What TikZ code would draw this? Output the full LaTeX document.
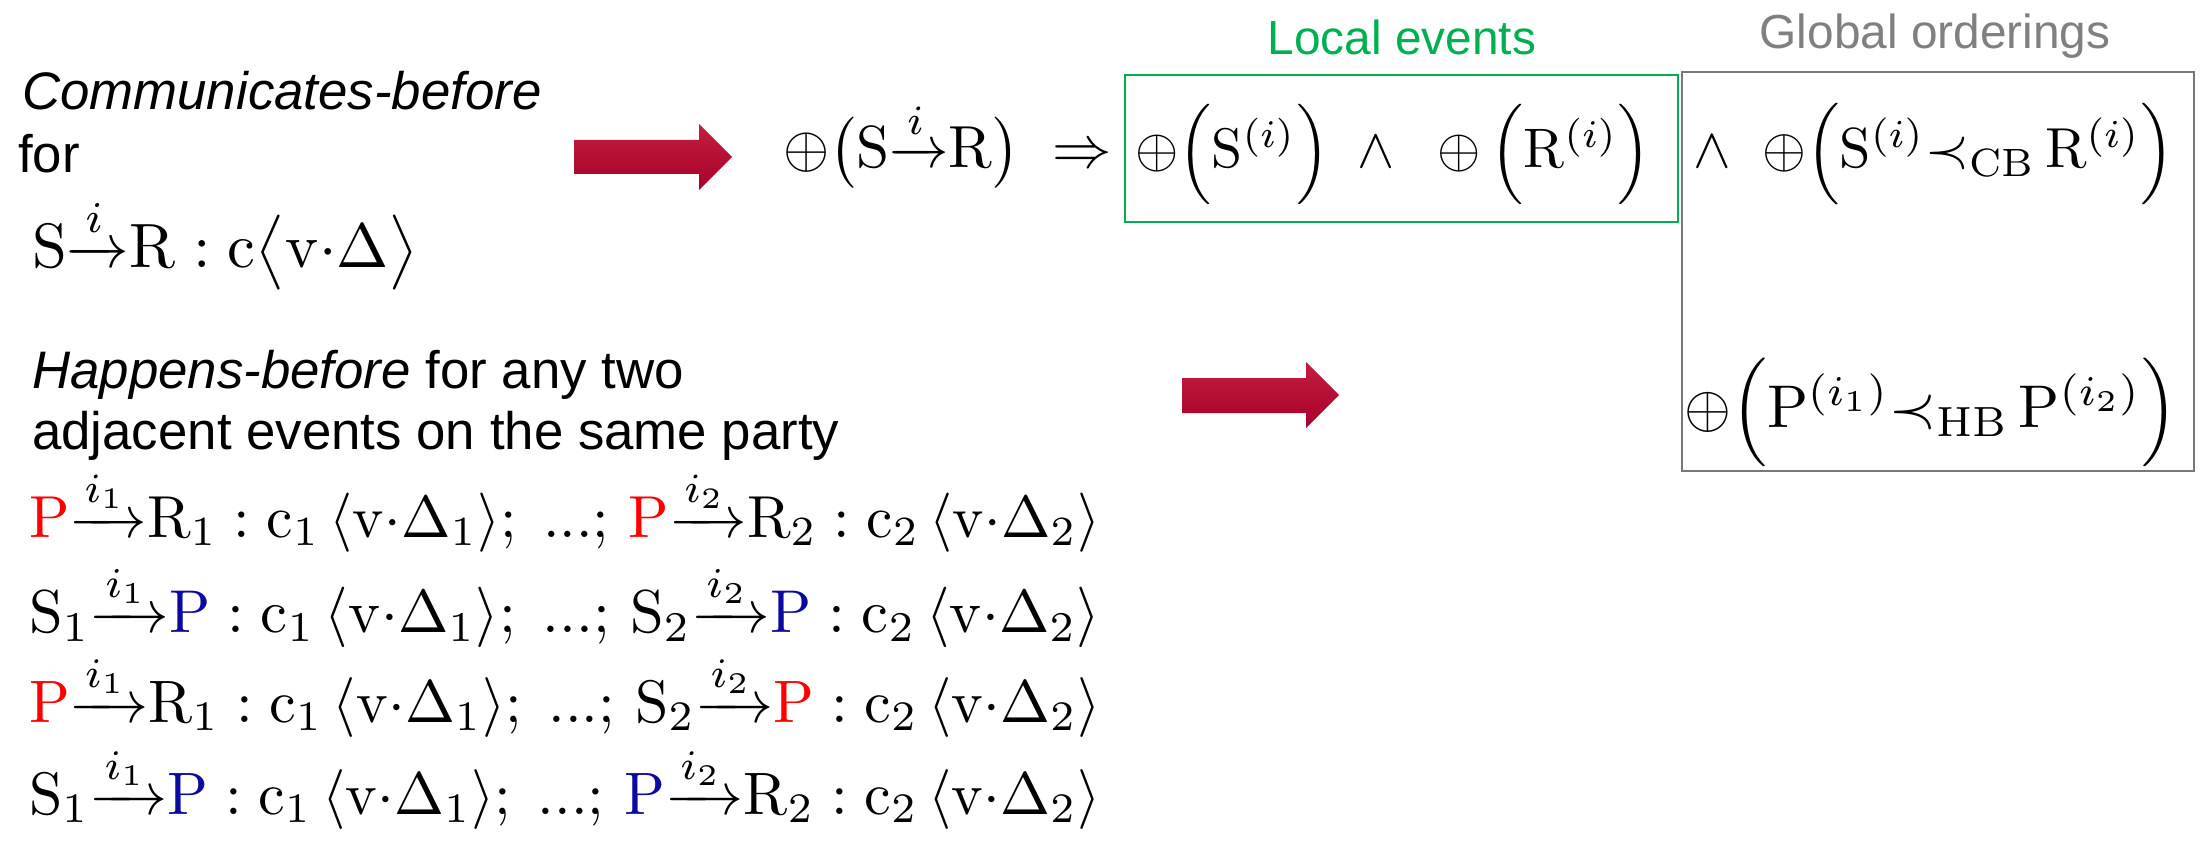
\documentclass[tikz,border=0pt]{standalone}
\usepackage{amsmath}
\usepackage{graphicx}
\usepackage[no-math]{fontspec}
\newfontfamily\sansf{Liberation Sans}
\definecolor{lgreen}{RGB}{0,176,80}
\definecolor{lgray}{RGB}{128,128,128}
\definecolor{boxgray}{RGB}{120,120,120}
\definecolor{pred}{RGB}{255,0,0}
\definecolor{pblue}{RGB}{10,10,160}
\definecolor{arrtop}{RGB}{196,30,62}
\definecolor{arrbot}{RGB}{168,0,42}
\newcommand{\fw}[2]{\resizebox{#1pt}{!}{$#2$}}
\newcommand{\msgto}[3]{#1\mathord{\xrightarrow{#2}}#3}
\newcommand{\rP}{{\color{pred}\mathrm{P}}}
\newcommand{\bP}{{\color{pblue}\mathrm{P}}}
\newcommand{\pay}[1]{\mathrm{c}_{#1}\,\langle\mathrm{v}{\cdot}\Delta_{#1}\rangle}
\tikzset{
 txt/.style={inner sep=0pt, anchor=base west, font=\sansf\fontsize{52.8}{60}\selectfont},
 lbl/.style={inner sep=0pt, anchor=base, font=\sansf\fontsize{47.8}{55}\selectfont},
 fml/.style={inner sep=0pt, anchor=base west},
 bigarrow/.style={top color=arrtop, bottom color=arrbot, draw=none},
 gbox/.style={draw=lgreen, line width=2.5pt},
 graybox/.style={draw=boxgray, line width=2.5pt},
}
\begin{document}
\begin{tikzpicture}[x=1pt,y=-1pt]
\useasboundingbox (0,0) rectangle (2201,842);
% left column
\node[txt] (cb) at (22,110) {\itshape Communicates-before};
\node[txt] (for) at (18,173) {for};
\node[fml] (sr) at (32,268) {\fw{386}{\msgto{\mathrm{S}}{i}{\mathrm{R}} : \mathrm{c}\big\langle\mathrm{v}{\cdot}\Delta\big\rangle}};
\node[txt] (hb) at (32,388) {\textit{Happens-before} for any two};
\node[txt] (adj) at (32,449) {adjacent events on the same party};
\node[fml] (r1) at (29,537) {\fw{1071}{\msgto{\rP}{i_1}{\mathrm{R}_1} : \pay{1};\;...;\,\msgto{\rP}{i_2}{\mathrm{R}_2} : \pay{2}}};
\node[fml] (r2) at (29,632) {\fw{1071}{\msgto{\mathrm{S}_1}{i_1}{\bP} : \pay{1};\;...;\,\msgto{\mathrm{S}_2}{i_2}{\bP} : \pay{2}}};
\node[fml] (r3) at (29,722) {\fw{1071}{\msgto{\rP}{i_1}{\mathrm{R}_1} : \pay{1};\;...;\,\msgto{\mathrm{S}_2}{i_2}{\rP} : \pay{2}}};
\node[fml] (r4) at (29,814) {\fw{1071}{\msgto{\mathrm{S}_1}{i_1}{\bP} : \pay{1};\;...;\,\msgto{\bP}{i_2}{\mathrm{R}_2} : \pay{2}}};
% arrows
\shade[bigarrow] (574,140) -- (699,140) -- (699,124) -- (732,157) -- (699,190) -- (699,174) -- (574,174) -- cycle;
\shade[bigarrow] (1182,378) -- (1306,378) -- (1306,362) -- (1339,395) -- (1306,428) -- (1306,413) -- (1182,413) -- cycle;
% boxes and labels
\draw[gbox] (1125,75) rectangle (1678,222);
\draw[graybox] (1682,72) rectangle (2194,471);
\node[lbl, text=lgreen] (le) at (1402,55) {Local events};
\node[lbl, text=lgray] (go) at (1935,49) {Global orderings};
% formulas
\node[fml] (f0) at (783,168) {\fw{329}{\oplus\big(\msgto{\mathrm{S}}{i}{\mathrm{R}}\big)\;\Rightarrow}};
\node[fml] (f1) at (1135,168) {\fw{516}{\oplus\Big(\mathrm{S}^{(i)}\Big)\;\wedge\;\;\oplus\,\Big(\mathrm{R}^{(i)}\Big)}};
\node[fml] (f2) at (1693,168) {\fw{481}{\wedge\;\;\mathord{\oplus}\Big(\mathrm{S}^{(i)}\mathord{\prec}_{\mathrm{CB}}\,\mathrm{R}^{(i)}\Big)}};
\node[fml] (f3) at (1684,427) {\fw{493}{\mathord{\oplus}\Big(\mathrm{P}^{(i_1)}\mathord{\prec}_{\mathrm{HB}}\,\mathrm{P}^{(i_2)}\Big)}};
\end{tikzpicture}
\end{document}
